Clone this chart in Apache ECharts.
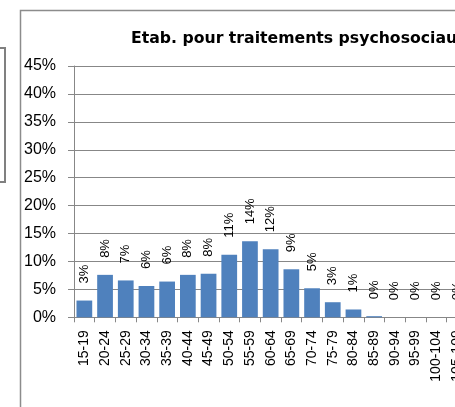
<!DOCTYPE html>
<html>
<head>
<meta charset="utf-8">
<script src="https://cdn.jsdelivr.net/npm/echarts@6/dist/echarts.min.js"></script>
<style>
  html, body { margin: 0; padding: 0; background: #fff; overflow: hidden; }
  #chart { width: 520px; height: 407px; }
</style>
</head>
<body>
<div id="chart"></div>
<script>
// tranches d'âge
const categories = [
  "15-19", "20-24", "25-29", "30-34", "35-39", "40-44", "45-49",
  "50-54", "55-59", "60-64", "65-69", "70-74", "75-79", "80-84",
  "85-89", "90-94", "95-99", "100-104", "105-109",
];
// pourcentages
const values = [
  3.0, 7.6, 6.6, 5.6, 6.4, 7.6, 7.8,
  11.2, 13.6, 12.2, 8.6, 5.2, 2.7, 1.4,
  0.2, 0, 0, 0, 0,
];
const yTicks = { min: 0, max: 45, interval: 5 };
const title = "Etab. pour traitements psychosociaux";

const chart = echarts.init(document.getElementById("chart"));

const axisColor = "#878787";

const option = {
  animation: false,
  title: {
    text: title,
    left: 126,
    top: 26,
    textStyle: {
      fontFamily: "DejaVu Sans",
      fontWeight: "bold",
      fontSize: 15.7,
      color: "#000",
    },
  },
  grid: {
    left: 74,
    top: 66,
    width: 19 * 20.7,
    height: 251.3,
    containLabel: false,
  },
  xAxis: {
    type: "category",
    data: categories,
    axisLine: { show: true, lineStyle: { color: axisColor, width: 1 } },
    axisTick: { show: true, length: 5, lineStyle: { color: axisColor } },
    axisLabel: {
      interval: 0,
      rotate: 90,
      margin: 13,
      color: "#000",
      fontFamily: "Liberation Sans",
      fontSize: 14,
    },
    splitLine: { show: false },
  },
  yAxis: {
    type: "value",
    min: yTicks.min,
    max: yTicks.max,
    interval: yTicks.interval,
    axisLine: { show: true, lineStyle: { color: axisColor, width: 1 } },
    axisTick: { show: true, length: 6, lineStyle: { color: axisColor } },
    axisLabel: {
      formatter: "{value}%",
      margin: 18,
      color: "#000",
      fontFamily: "Liberation Sans",
      fontSize: 16,
    },
    splitLine: { show: true, lineStyle: { color: axisColor, width: 1 } },
  },
  series: [
    {
      type: "bar",
      data: values,
      barCategoryGap: "24%",
      itemStyle: { color: "#4F81BD" },
      label: {
        show: true,
        position: "top",
        rotate: 90,
        align: "left",
        verticalAlign: "middle",
        distance: 17,
        color: "#000",
        fontFamily: "Liberation Sans",
        fontSize: 13,
        formatter: (p) => Math.round(p.value) + "%",
      },
    },
  ],
  graphic: [
    {
      type: "rect",
      shape: { x: 20.5, y: 10.5, width: 600, height: 500 },
      style: { fill: "none", stroke: "#8c8c8c", lineWidth: 1.5 },
    },
    {
      type: "rect",
      shape: { x: -10, y: 48, width: 15, height: 134 },
      style: { fill: "none", stroke: "#808080", lineWidth: 2 },
    },
  ],
};

chart.setOption(option);
</script>
</body>
</html>
